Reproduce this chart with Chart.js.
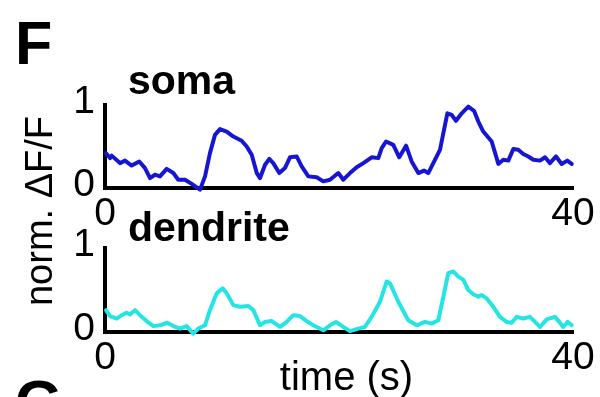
<!DOCTYPE html>
<html>
<head>
<meta charset="utf-8">
<script src="https://cdn.jsdelivr.net/npm/chart.js@4/dist/chart.umd.min.js"></script>
<style>
  html, body { margin: 0; padding: 0; background: #fff; }
  body { width: 600px; height: 397px; position: relative; overflow: hidden; font-family: "Liberation Sans", Arial, sans-serif; }
  canvas { position: absolute; left: 0; }
  .t { position: absolute; line-height: 1; white-space: nowrap; color: #000; z-index: 2; }
  .b { font-weight: bold; }
</style>
</head>
<body>
<canvas id="c1" width="600" height="180" style="top:60px"></canvas>
<canvas id="c2" width="600" height="182" style="top:215px"></canvas>

<div class="t b" style="left:15px; top:13px; font-size:61px;">F</div>
<div class="t b" style="left:128px; top:60px; font-size:41px;">soma</div>
<div class="t b" style="left:128px; top:207px; font-size:41px;">dendrite</div>
<div class="t" style="left:0px; width:693px; text-align:center; top:356px; font-size:40px;">time (s)</div>
<div class="t" id="ylab" style="font-size:38px; width:260px; text-align:center; left:-91px; top:192px; transform: rotate(-90deg);">norm. ΔF/F</div>
<div class="t b" style="left:15px; top:372px; font-size:61px;">G</div>

<script>
// ---- data ----
const xTickLabels = [0, 40];
const yTickLabels = [0, 1];

const somaTime = [0.09,0.43,0.57,1.28,1.71,2.28,2.93,3.42,3.85,4.27,4.70,5.27,5.84,6.26,6.84,7.41,8.12,8.55,8.97,9.40,9.83,10.40,10.97,11.68,12.11,12.54,12.97,13.25,13.68,14.04,14.38,14.90,15.38,15.81,16.38,16.81,17.38,18.09,18.66,19.23,19.94,20.37,20.94,21.51,22.08,22.79,23.36,23.65,24.02,24.64,25.15,25.73,26.21,26.78,27.26,27.63,28.06,28.63,29.26,29.63,30.00,30.49,31.05,31.54,31.91,32.33,33.05,33.62,34.04,34.47,34.90,35.32,35.75,36.18,36.61,37.18,37.61,38.03,38.55,39.03,39.51,39.89];
const somaValues = [0.42,0.36,0.39,0.30,0.33,0.27,0.32,0.24,0.12,0.16,0.14,0.23,0.18,0.10,0.10,0.05,-0.02,0.14,0.42,0.64,0.71,0.68,0.62,0.57,0.50,0.40,0.18,0.12,0.28,0.35,0.30,0.18,0.24,0.37,0.38,0.26,0.14,0.13,0.08,0.10,0.18,0.10,0.18,0.25,0.30,0.37,0.36,0.48,0.56,0.52,0.37,0.51,0.32,0.18,0.21,0.18,0.30,0.46,0.90,0.88,0.81,0.90,0.98,0.93,0.80,0.68,0.56,0.29,0.34,0.33,0.47,0.46,0.41,0.38,0.34,0.33,0.37,0.30,0.38,0.29,0.33,0.29];

const dendriteTime = [0.09,0.43,1.00,1.43,1.85,2.14,2.56,2.99,3.56,4.13,4.70,5.32,5.84,6.41,6.98,7.55,7.97,8.55,8.97,9.55,10.06,10.40,10.97,11.54,12.25,12.68,13.25,13.68,14.25,14.96,15.53,16.09,16.67,17.24,17.80,18.66,19.23,19.74,20.37,20.94,21.65,22.22,22.79,23.50,24.07,24.36,25.07,25.92,26.64,27.35,27.92,28.49,28.92,29.34,29.77,30.20,30.63,31.05,31.48,31.91,32.20,32.62,33.19,33.76,34.33,34.76,35.19,35.75,36.32,36.75,37.18,37.75,38.46,38.83,39.17,39.55,39.89];
const dendriteValues = [0.26,0.19,0.16,0.20,0.23,0.21,0.26,0.20,0.13,0.07,0.08,0.11,0.07,0.04,0.07,-0.02,0.04,0.08,0.26,0.46,0.52,0.46,0.32,0.30,0.31,0.26,0.08,0.12,0.13,0.06,0.12,0.20,0.19,0.13,0.08,0.02,0.08,0.12,0.06,0.01,0.04,0.06,0.18,0.36,0.60,0.58,0.36,0.14,0.08,0.12,0.10,0.14,0.42,0.70,0.72,0.66,0.62,0.50,0.45,0.42,0.44,0.40,0.30,0.18,0.12,0.11,0.18,0.16,0.18,0.12,0.06,0.15,0.18,0.12,0.06,0.12,0.08];

const FONT = '"Liberation Sans", Arial, sans-serif';

function makeChart(id, times, values, color, padTop, xAxisHeight) {
  const pts = times.map((t, i) => ({ x: t, y: values[i] }));
  return new Chart(document.getElementById(id), {
    type: 'line',
    data: { datasets: [{ data: pts, borderColor: color, borderWidth: 4, pointRadius: 0, tension: 0, fill: false, clip: 10, borderJoinStyle: 'round', borderCapStyle: 'round' }] },
    options: {
      responsive: false,
      animation: false,
      devicePixelRatio: 1,
      layout: { padding: { left: 0, right: 27, top: padTop, bottom: 0 } },
      plugins: { legend: { display: false }, tooltip: { enabled: false }, title: { display: false } },
      scales: {
        x: {
          type: 'linear', min: 0, max: 40,
          afterBuildTicks: s => { s.ticks = xTickLabels.map(v => ({ value: v })); },
          grid: { display: false, drawTicks: false },
          border: { display: true, color: '#000', width: 4 },
          ticks: { color: '#000', font: { family: FONT, size: 39 }, padding: 3, maxRotation: 0, autoSkip: false },
          afterFit: s => { s.height = xAxisHeight; s.paddingLeft = 0; s.paddingRight = 0; }
        },
        y: {
          type: 'linear', min: 0, max: 1,
          afterBuildTicks: s => { s.ticks = yTickLabels.map(v => ({ value: v })); },
          grid: { display: false, drawTicks: false },
          border: { display: true, color: '#000', width: 4 },
          ticks: { color: '#000', font: { family: FONT, size: 39 }, padding: 10, labelOffset: -3 },
          afterFit: s => { s.width = 105; s.paddingTop = 0; s.paddingBottom = 0; }
        }
      }
    }
  });
}

makeChart('c1', somaTime, somaValues, '#1616d2', 45, 52);
makeChart('c2', dendriteTime, dendriteValues, '#25e4e4', 33, 65);
</script>
</body>
</html>
